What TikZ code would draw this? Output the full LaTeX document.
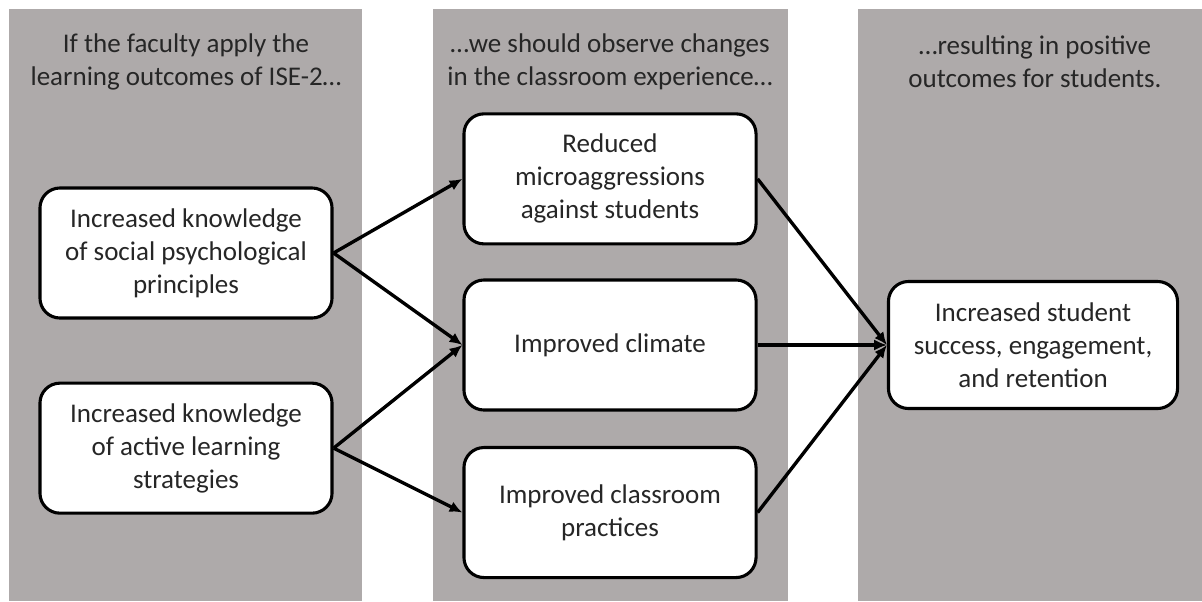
\documentclass[tikz,border=0pt]{standalone}
\usepackage{fontspec}
\setmainfont{Carlito}
\usetikzlibrary{arrows.meta,positioning}
\definecolor{colgray}{RGB}{174,170,170}
\definecolor{txtgray}{RGB}{38,38,38}

\begin{document}
\begin{tikzpicture}[x=0.025cm,y=-0.025cm,
  font=\fontsize{19.2}{23.5}\selectfont,
  header/.style={align=center,text=txtgray},
  outcome/.style={draw=black,line width=2.2pt,fill=white,rounded corners=0.5cm,
    minimum width=7.3cm,minimum height=3.25cm,align=center,text=txtgray,inner sep=0pt},
  link/.style={line width=2.4pt,-{Latex[length=3.2mm,width=2.8mm]}}]

\useasboundingbox (0,0) rectangle (1202,601);

\fill[colgray] (9,9) rectangle (362,601);
\fill[colgray] (433,9) rectangle (788,601);
\fill[colgray] (858,9) rectangle (1202,601);

\node[header] (hleft) at (186,62) {If the faculty apply the\\learning outcomes of ISE-2…};
\node[header] (hmid) at (610,62) {…we should observe changes\\in the classroom experience…};
\node[header] (hright) at (1035,62) {…resulting in positive\\outcomes for students.};

\node[outcome] (social) at (186,253) {Increased knowledge\\of social psychological\\principles};
\node[outcome,below=1.55cm of social] (active) {Increased knowledge\\of active learning\\strategies};

\node[outcome] (climate) at (610,345) {Improved climate};
\node[outcome,above=0.825cm of climate] (micro) {Reduced\\microaggressions\\against students};
\node[outcome,below=0.86cm of climate] (practice) {Improved classroom\\practices};

\node[outcome,minimum width=7.225cm,minimum height=3.175cm] (success) at (1033,345)
  {Increased student\\success, engagement,\\and retention};

\draw[link] (social.east) -- (micro.west);
\draw[link] (social.east) -- (climate.west);
\draw[link] (active.east) -- (climate.west);
\draw[link] (active.east) -- (practice.west);
\draw[link] (micro.east) -- (success.west);
\draw[link] (climate.east) -- (success.west);
\draw[link] (practice.east) -- (success.west);
\end{tikzpicture}
\end{document}
